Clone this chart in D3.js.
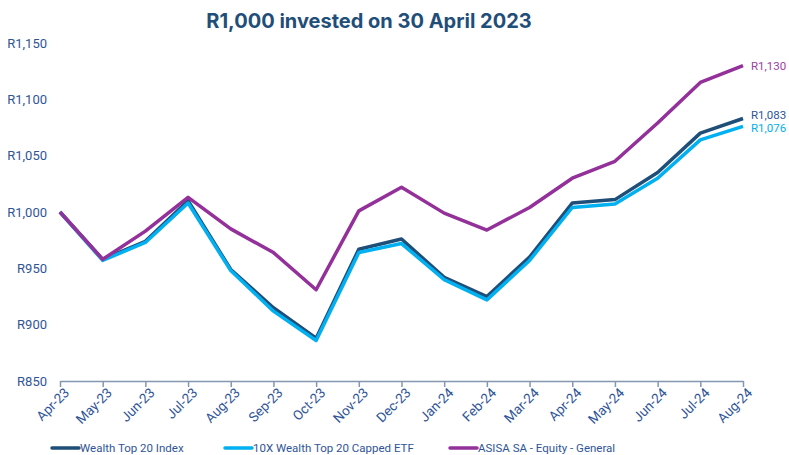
<!DOCTYPE html>
<html>
<head>
<meta charset="utf-8">
<title>R1,000 invested on 30 April 2023</title>
<script src="https://cdn.jsdelivr.net/npm/d3@7"></script>
<style>
  body { margin: 0; background: #fff; }
  text { font-family: Roboto, "Open Sans", sans-serif; }
</style>
</head>
<body>
<script>
// months on the x axis
var months = ["Apr-23","May-23","Jun-23","Jul-23","Aug-23","Sep-23","Oct-23","Nov-23","Dec-23",
              "Jan-24","Feb-24","Mar-24","Apr-24","May-24","Jun-24","Jul-24","Aug-24"];

var wealthTop20 = [1000, 958, 974, 1010, 949, 915, 888, 967, 976, 942, 925, 960, 1008, 1011, 1035, 1070, 1083];
var capped10x   = [1000, 957, 973, 1008, 948, 912, 886, 964, 972, 940, 922, 957, 1004, 1007, 1030, 1064, 1076];
var asisa       = [1000, 958, 983, 1013, 985, 964, 931, 1001, 1022, 999, 984, 1004, 1030, 1045, 1079, 1115, 1130];

var seriesNames = ["Wealth Top 20 Index", "10X Wealth Top 20 Capped ETF", "ASISA SA - Equity - General"];
var yTicks = [850, 900, 950, 1000, 1050, 1100, 1150];

var colors = ["#1f4e79", "#00b0f0", "#93309a"];
var labelColors = ["#2f5597", "#00b0f0", "#a040a0"];

var W = 789, H = 455;
var margin = {top: 43, right: 46, bottom: 74, left: 60};

var svg = d3.select("body").append("svg")
  .attr("width", W).attr("height", H);

var x = d3.scalePoint().domain(months).range([margin.left, W - margin.right]);
var y = d3.scaleLinear().domain([850, 1150]).range([H - margin.bottom, margin.top]);

var fmt = function(v) { return "R" + d3.format(",")(v); };

// title
svg.append("text")
  .attr("x", 369).attr("y", 28)
  .attr("text-anchor", "middle")
  .style("font-family", "Inter, 'Open Sans', sans-serif")
  .style("font-weight", "bold")
  .style("font-size", "20px")
  .style("fill", "#1f4e79")
  .text("R1,000 invested on 30 April 2023");

// y labels
var yAxis = svg.append("g")
  .attr("transform", "translate(" + margin.left + ",0)")
  .call(d3.axisLeft(y).tickValues(yTicks).tickFormat(fmt).tickSize(0).tickPadding(13));
yAxis.select(".domain").remove();
yAxis.selectAll("text").style("font-size", "13px").style("fill", "#2f5597");

// x axis
var xAxis = svg.append("g")
  .attr("transform", "translate(0," + (H - margin.bottom) + ")")
  .call(d3.axisBottom(x).tickSize(6).tickSizeOuter(0));
xAxis.select(".domain").attr("stroke", "#8497b0").attr("stroke-width", 1.5);
xAxis.selectAll(".tick line").attr("stroke", "#8497b0").attr("stroke-width", 1.5);
xAxis.selectAll("text")
  .style("font-size", "13.5px")
  .style("fill", "#2f5597")
  .attr("text-anchor", "end")
  .attr("x", -2)
  .attr("y", 11)
  .attr("dy", "0.35em")
  .attr("transform", "rotate(-45)");

var allSeries = [wealthTop20, capped10x, asisa];

var line = d3.line()
  .x(function(d, i) { return x(months[i]); })
  .y(function(d) { return y(d); });

allSeries.forEach(function(s, k) {
  svg.append("path")
    .datum(s)
    .attr("fill", "none")
    .attr("stroke", colors[k])
    .attr("stroke-width", 3.5)
    .attr("stroke-linejoin", "round")
    .attr("d", line);
});

// end labels
var labelShift = [-4, 2, 0];
allSeries.forEach(function(s, k) {
  var last = s[s.length - 1];
  svg.append("text")
    .attr("x", x(months[months.length - 1]) + 8)
    .attr("y", y(last) + labelShift[k])
    .attr("dy", "0.35em")
    .style("font-size", "11.5px")
    .style("fill", labelColors[k])
    .text(fmt(last));
});

// legend
var legendX = [52, 225, 450];
seriesNames.forEach(function(n, k) {
  var g = svg.append("g").attr("transform", "translate(" + legendX[k] + ",448)");
  g.append("line")
    .attr("x1", 0).attr("x2", 27).attr("y1", 0).attr("y2", 0)
    .attr("stroke", colors[k]).attr("stroke-width", 3.5).attr("stroke-linecap", "round");
  g.append("text")
    .attr("x", 28).attr("y", 0).attr("dy", "0.35em")
    .style("font-size", "11.5px")
    .style("fill", "#2f5597")
    .text(n);
});
</script>
</body>
</html>
